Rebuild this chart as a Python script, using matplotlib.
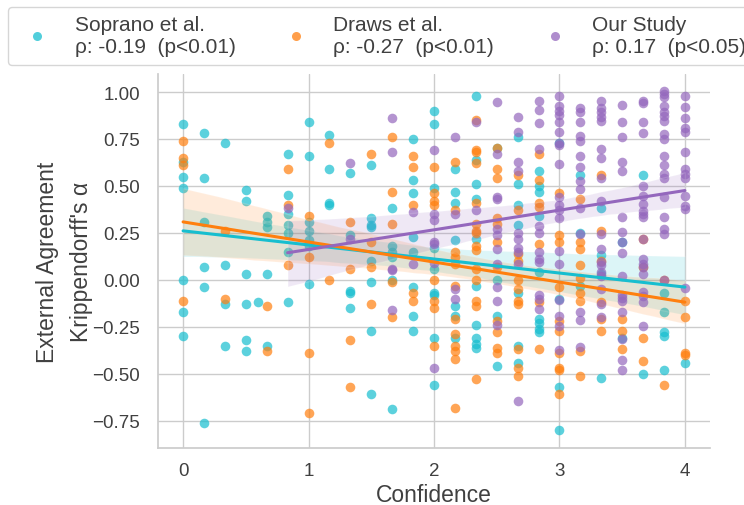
import matplotlib
matplotlib.use("Agg")
import matplotlib.pyplot as plt
from matplotlib.lines import Line2D
import numpy as np
import seaborn as sns

# confidence levels (steps of 1/6) and the agreement values seen at each level
soprano_levels = [0, 1/6, 2/6, 3/6, 0.6, 4/6, 5/6, 1, 7/6, 8/6, 9/6, 10/6, 11/6, 2,
                  13/6, 14/6, 15/6, 16/6, 17/6, 3, 19/6, 20/6, 21/6, 22/6, 23/6, 4]
soprano_vals = [
    [0.83, 0.63, 0.55, 0.49, 0.0, -0.17, -0.30],
    [0.78, 0.54, 0.31, 0.07, -0.04, -0.76],
    [0.73, 0.08, -0.13, -0.35],
    [0.48, 0.42, 0.03, -0.13, -0.32, -0.38],
    [-0.12],
    [0.34, 0.31, 0.28, 0.03, -0.35],
    [0.67, 0.45, 0.35, 0.29, 0.25, 0.15, -0.12],
    [0.84, 0.66, 0.31, 0.26, 0.21, 0.18, -0.02],
    [0.77, 0.59, 0.41, 0.40],
    [0.57, 0.24, -0.06, -0.07, -0.15],
    [0.61, 0.33, 0.29, 0.28, 0.10, -0.01, -0.27, -0.61],
    [0.38, 0.18, 0.15, 0.12, 0.0, -0.69],
    [0.75, 0.53, 0.46, 0.23, 0.15, -0.04, -0.19, -0.27],
    [0.90, 0.83, 0.49, 0.17, 0.06, -0.07, -0.08, -0.31, -0.56],
    [0.59, 0.47, 0.41, 0.21, -0.14, -0.19, -0.31],
    [0.98, 0.64, 0.51, 0.43, 0.22, -0.03, -0.24, -0.31, -0.34, -0.36],
    [0.70, 0.0, -0.19, -0.46],
    [0.76, 0.51, 0.40, 0.29, -0.07, -0.35, -0.44],
    [0.58, 0.50, 0.47, 0.34, 0.04, -0.21, -0.23, -0.26, -0.28],
    [0.73, -0.10, -0.57, -0.80],
    [0.56, 0.25, -0.03],
    [0.38, 0.13, 0.03, -0.52],
    [0.20, -0.31],
    [0.56, -0.50],
    [-0.07, -0.17, -0.28, -0.30, -0.48],
    [-0.44],
]

draws_levels = [0, 2/6, 4/6, 5/6, 1, 7/6, 8/6, 9/6, 10/6, 11/6, 2, 13/6, 14/6,
                15/6, 16/6, 17/6, 3, 19/6, 20/6, 21/6, 22/6, 23/6, 4]
draws_vals = [
    [0.74, 0.65, 0.61, -0.11],
    [0.26, -0.10],
    [-0.14, -0.38],
    [0.59, 0.40, 0.08],
    [0.34, 0.12, -0.39, -0.71],
    [0.73, 0.0],
    [0.31, 0.06, -0.32, -0.57],
    [0.67, 0.20, 0.07, -0.13],
    [0.76, 0.47, 0.30, -0.01, -0.20],
    [0.66, 0.60, 0.40, -0.07, -0.11],
    [0.60, 0.46, 0.42, 0.40, 0.0, -0.11, -0.15, -0.35],
    [0.63, 0.37, 0.15, 0.12, 0.085, -0.03, -0.21, -0.29, -0.35, -0.38, -0.42, -0.68],
    [0.85, 0.69, 0.68, 0.62, 0.41, 0.30, 0.26, 0.25, 0.18, 0.16, 0.06, 0.0, -0.11, -0.14, -0.53],
    [0.70, 0.59, 0.54, 0.33, 0.30, 0.20, 0.07, -0.22, -0.28, -0.36, -0.39],
    [0.56, 0.37, 0.14, 0.10, 0.0, -0.05, -0.11, -0.13, -0.37, -0.47, -0.51],
    [0.67, 0.53, 0.41, 0.39, 0.19, -0.12, -0.37],
    [0.46, 0.24, 0.20, -0.04, -0.22, -0.27, -0.39, -0.47, -0.48, -0.61],
    [0.43, 0.20, 0.165, 0.08, 0.01, -0.07, -0.11, -0.38, -0.51],
    [0.56, 0.26, 0.10, -0.12, -0.21, -0.27],
    [-0.21, -0.27, -0.37],
    [0.22, 0.07, -0.31, -0.43],
    [0.0, -0.56],
    [-0.11, -0.20, -0.39, -0.40],
]

study_levels = [5/6, 8/6, 10/6, 11/6, 2, 13/6, 14/6, 15/6, 16/6, 17/6, 3, 19/6,
                20/6, 21/6, 22/6, 23/6, 4]
study_vals = [
    [0.38],
    [0.62, 0.22],
    [0.86, 0.68, 0.06, 0.05, -0.16],
    [0.36, 0.085],
    [0.69, 0.35, 0.32, 0.20, 0.19, 0.09, -0.47],
    [0.76, 0.35, -0.05, -0.10],
    [0.84, 0.37],
    [0.945, 0.67, 0.44, 0.43, 0.27, 0.24, 0.165, 0.085, -0.04, -0.11, -0.24],
    [0.865, 0.785, 0.63, 0.58, 0.25, 0.22, 0.17, 0.15, 0.085, -0.645],
    [0.954, 0.906, 0.834, 0.697, 0.285, 0.25, 0.147, 0.112, 0.094, -0.08, -0.10, -0.154],
    [0.977, 0.924, 0.90, 0.878, 0.838, 0.785, 0.73, 0.718, 0.617, 0.44, 0.396, 0.37,
     0.33, 0.156, 0.085, -0.105, -0.19, -0.243, -0.371],
    [0.913, 0.895, 0.838, 0.767, 0.741, 0.658, 0.60, 0.527, 0.482, 0.38, 0.245,
     -0.172, -0.216, -0.358],
    [0.954, 0.913, 0.892, 0.865, 0.847, 0.697, 0.647, 0.541, 0.422, 0.245, 0.165,
     0.08, 0.094, 0.041, 0.023, -0.048, -0.128, -0.199],
    [0.931, 0.839, 0.759, 0.626, 0.581, 0.337, 0.257, 0.2, 0.142, 0.023, -0.08,
     -0.097, -0.11, -0.172, -0.314, -0.426, -0.482],
    [0.954, 0.942, 0.842, 0.782, 0.498, 0.448, 0.404, 0.369, 0.351, 0.333, 0.218,
     0.112, 0.085, 0.067, 0.032, -0.066, -0.087, -0.119, -0.243],
    [1.007, 0.989, 0.972, 0.927, 0.892, 0.871, 0.847, 0.777, 0.75, 0.661, 0.612,
     0.564, 0.541, 0.44, 0.333, 0.271, 0.245, 0.002],
    [0.98, 0.919, 0.86, 0.807, 0.786, 0.683, 0.59, 0.564, 0.541, 0.448, 0.395,
     0.378, -0.044],
]

series_labels = ["Soprano et al.\nρ: -0.19  (p<0.01)",
                 "Draws et al.\nρ: -0.27  (p<0.01)",
                 "Our Study\nρ: 0.17  (p<0.05)"]
series_colors = ["#17becf", "#ff7f0e", "#9467bd"]


def flatten(levels, vals):
    xs, ys = [], []
    for lv, col in zip(levels, vals):
        xs += [lv] * len(col)
        ys += col
    return np.array(xs), np.array(ys)


sns.set_theme(style="whitegrid")
plt.rcParams["font.family"] = ["Liberation Sans", "DejaVu Sans"]
plt.rcParams["text.color"] = ".25"
plt.rcParams["axes.labelcolor"] = ".25"
plt.rcParams["xtick.color"] = ".25"
plt.rcParams["ytick.color"] = ".25"

fig = plt.figure(figsize=(7.44, 5.06), dpi=100)
ax = fig.add_axes([158/744, 1 - 449/506, 552/744, 374/506])

for (lv, vals), c in zip([(soprano_levels, soprano_vals),
                          (draws_levels, draws_vals),
                          (study_levels, study_vals)], series_colors):
    xs, ys = flatten(lv, vals)
    sns.regplot(x=xs, y=ys, ax=ax, color=c, seed=3, truncate=True,
                scatter_kws=dict(s=48, alpha=0.7, linewidths=0),
                line_kws=dict(lw=2.2))

# legend: plain dots in the series colours
handles = [Line2D([], [], ls="", marker="o", ms=6.5, color=c, alpha=0.75, mec="none")
           for c in series_colors]
fig.legend(handles, series_labels, loc="upper left", bbox_to_anchor=(8/744, 1 - 8/506),
           ncol=3, fontsize=15, frameon=True, borderaxespad=0, columnspacing=1.9,
           handletextpad=0.8, borderpad=0.4, labelspacing=0.3, edgecolor=".8")

ax.set_xlim(-0.2, 4.2)
ax.set_ylim(-0.895, 1.096)
ax.set_xticks([0, 1, 2, 3, 4])
ax.set_yticks([-0.75, -0.5, -0.25, 0, 0.25, 0.5, 0.75, 1.0])
ax.set_yticklabels(["−0.75", "−0.50", "−0.25", "0.00", "0.25", "0.50", "0.75", "1.00"])
ax.tick_params(axis="x", labelsize=13.5, pad=4)
ax.tick_params(axis="y", labelsize=13.5, pad=7)
ax.set_xlabel("Confidence", fontsize=16.5, labelpad=3)
ax.set_ylabel("External Agreement\nKrippendorff's α", fontsize=16.5, linespacing=1.6)
ax.yaxis.set_label_coords(-0.118, 0.5)
sns.despine(ax=ax)

fig.savefig("out.png", dpi=100)
